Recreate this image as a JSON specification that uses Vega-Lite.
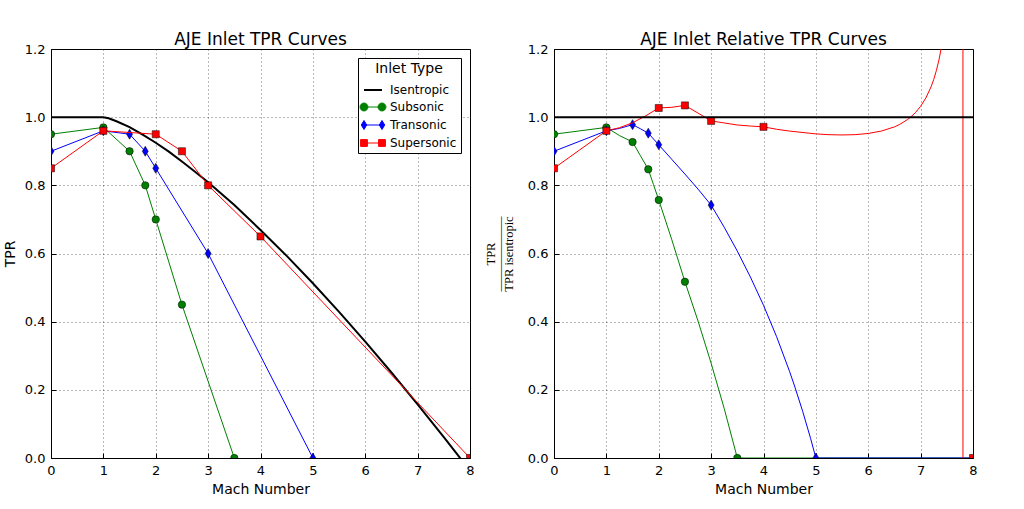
{
  "$schema": "https://vega.github.io/schema/vega-lite/v6.json",
  "autosize": {"type": "pad"},
  "padding": {"left": 2, "top": 30, "right": 5, "bottom": 5},
  "background": "white",
  "bounds": "flush",
  "spacing": 84,
  "config": {
    "view": {"stroke": "black", "strokeWidth": 1},
    "axis": {
      "labelFont": "DejaVu Sans", "labelFontSize": 13, "labelColor": "black",
      "titleFont": "DejaVu Sans", "titleFontSize": 14, "titleFontWeight": "normal", "titleColor": "black",
      "domain": false, "tickColor": "black", "tickSize": -5, "labelPadding": 11,
      "grid": true, "gridColor": "black", "gridDash": [1, 3], "gridOpacity": 0.7, "gridWidth": 0.8,
      "labelFlush": false, "labelOverlap": false
    },
    "title": {"font": "DejaVu Sans", "fontSize": 17, "fontWeight": "normal", "color": "black", "offset": -6}
  },
  "datasets": {
    "Lline": [
      {"s": "Isentropic", "m": 0, "v": 1.0},
      {"s": "Isentropic", "m": 1, "v": 1.0},
      {"s": "Isentropic", "m": 1.1, "v": 0.9966},
      {"s": "Isentropic", "m": 1.25, "v": 0.988},
      {"s": "Isentropic", "m": 1.5, "v": 0.971},
      {"s": "Isentropic", "m": 1.75, "v": 0.949},
      {"s": "Isentropic", "m": 2, "v": 0.925},
      {"s": "Isentropic", "m": 2.25, "v": 0.899},
      {"s": "Isentropic", "m": 2.5, "v": 0.870},
      {"s": "Isentropic", "m": 2.75, "v": 0.840},
      {"s": "Isentropic", "m": 3, "v": 0.809},
      {"s": "Isentropic", "m": 3.5, "v": 0.742},
      {"s": "Isentropic", "m": 4, "v": 0.669},
      {"s": "Isentropic", "m": 4.5, "v": 0.593},
      {"s": "Isentropic", "m": 5, "v": 0.5127},
      {"s": "Isentropic", "m": 5.5, "v": 0.4286},
      {"s": "Isentropic", "m": 6, "v": 0.3413},
      {"s": "Isentropic", "m": 6.5, "v": 0.2509},
      {"s": "Isentropic", "m": 7, "v": 0.1575},
      {"s": "Isentropic", "m": 7.5, "v": 0.061},
      {"s": "Isentropic", "m": 7.75, "v": 0.012},
      {"s": "Isentropic", "m": 7.9, "v": -0.0175},
      {"s": "Subsonic", "m": 0, "v": 0.95},
      {"s": "Subsonic", "m": 1, "v": 0.97},
      {"s": "Subsonic", "m": 1.5, "v": 0.90},
      {"s": "Subsonic", "m": 1.8, "v": 0.80},
      {"s": "Subsonic", "m": 2, "v": 0.70},
      {"s": "Subsonic", "m": 2.5, "v": 0.45},
      {"s": "Subsonic", "m": 3.5, "v": 0.0},
      {"s": "Transonic", "m": 0, "v": 0.90},
      {"s": "Transonic", "m": 1, "v": 0.96},
      {"s": "Transonic", "m": 1.5, "v": 0.95},
      {"s": "Transonic", "m": 1.8, "v": 0.90},
      {"s": "Transonic", "m": 2, "v": 0.85},
      {"s": "Transonic", "m": 3, "v": 0.60},
      {"s": "Transonic", "m": 5, "v": 0.0},
      {"s": "Supersonic", "m": 0, "v": 0.85},
      {"s": "Supersonic", "m": 1, "v": 0.96},
      {"s": "Supersonic", "m": 2, "v": 0.95},
      {"s": "Supersonic", "m": 2.5, "v": 0.90},
      {"s": "Supersonic", "m": 3, "v": 0.80},
      {"s": "Supersonic", "m": 4, "v": 0.65},
      {"s": "Supersonic", "m": 8, "v": 0.0}
    ],
    "Rline": [
      {"s": "Subsonic", "m": 0, "v": 0.95},
      {"s": "Subsonic", "m": 1, "v": 0.97},
      {"s": "Subsonic", "m": 1.25, "v": 0.946},
      {"s": "Subsonic", "m": 1.5, "v": 0.927},
      {"s": "Subsonic", "m": 1.65, "v": 0.887},
      {"s": "Subsonic", "m": 1.8, "v": 0.847},
      {"s": "Subsonic", "m": 1.9, "v": 0.802},
      {"s": "Subsonic", "m": 2, "v": 0.757},
      {"s": "Subsonic", "m": 2.25, "v": 0.640},
      {"s": "Subsonic", "m": 2.5, "v": 0.517},
      {"s": "Subsonic", "m": 2.75, "v": 0.402},
      {"s": "Subsonic", "m": 3, "v": 0.278},
      {"s": "Subsonic", "m": 3.25, "v": 0.145},
      {"s": "Subsonic", "m": 3.5, "v": 0.0},
      {"s": "Subsonic", "m": 8, "v": 0.0},
      {"s": "Transonic", "m": 0, "v": 0.90},
      {"s": "Transonic", "m": 1, "v": 0.96},
      {"s": "Transonic", "m": 1.25, "v": 0.967},
      {"s": "Transonic", "m": 1.5, "v": 0.978},
      {"s": "Transonic", "m": 1.65, "v": 0.966},
      {"s": "Transonic", "m": 1.8, "v": 0.953},
      {"s": "Transonic", "m": 1.9, "v": 0.936},
      {"s": "Transonic", "m": 2, "v": 0.919},
      {"s": "Transonic", "m": 2.25, "v": 0.876},
      {"s": "Transonic", "m": 2.5, "v": 0.833},
      {"s": "Transonic", "m": 2.75, "v": 0.789},
      {"s": "Transonic", "m": 3, "v": 0.742},
      {"s": "Transonic", "m": 3.25, "v": 0.677},
      {"s": "Transonic", "m": 3.5, "v": 0.607},
      {"s": "Transonic", "m": 3.75, "v": 0.531},
      {"s": "Transonic", "m": 4, "v": 0.448},
      {"s": "Transonic", "m": 4.25, "v": 0.356},
      {"s": "Transonic", "m": 4.5, "v": 0.253},
      {"s": "Transonic", "m": 4.6, "v": 0.208},
      {"s": "Transonic", "m": 4.75, "v": 0.136},
      {"s": "Transonic", "m": 4.9, "v": 0.057},
      {"s": "Transonic", "m": 5, "v": 0.0},
      {"s": "Transonic", "m": 8, "v": 0.0},
      {"s": "Supersonic", "m": 0, "v": 0.85},
      {"s": "Supersonic", "m": 1, "v": 0.96},
      {"s": "Supersonic", "m": 1.25, "v": 0.969},
      {"s": "Supersonic", "m": 1.5, "v": 0.9835},
      {"s": "Supersonic", "m": 1.75, "v": 1.0037},
      {"s": "Supersonic", "m": 2, "v": 1.027},
      {"s": "Supersonic", "m": 2.25, "v": 1.029},
      {"s": "Supersonic", "m": 2.5, "v": 1.0345},
      {"s": "Supersonic", "m": 2.75, "v": 1.012},
      {"s": "Supersonic", "m": 3, "v": 0.989},
      {"s": "Supersonic", "m": 3.25, "v": 0.983},
      {"s": "Supersonic", "m": 3.5, "v": 0.977},
      {"s": "Supersonic", "m": 3.75, "v": 0.974},
      {"s": "Supersonic", "m": 4, "v": 0.9716},
      {"s": "Supersonic", "m": 4.25, "v": 0.9645},
      {"s": "Supersonic", "m": 4.5, "v": 0.9591},
      {"s": "Supersonic", "m": 5, "v": 0.9509},
      {"s": "Supersonic", "m": 5.25, "v": 0.9486},
      {"s": "Supersonic", "m": 5.5, "v": 0.9478},
      {"s": "Supersonic", "m": 5.75, "v": 0.9487},
      {"s": "Supersonic", "m": 6, "v": 0.9522},
      {"s": "Supersonic", "m": 6.25, "v": 0.9592},
      {"s": "Supersonic", "m": 6.5, "v": 0.9715},
      {"s": "Supersonic", "m": 6.6, "v": 0.9787},
      {"s": "Supersonic", "m": 6.75, "v": 0.993},
      {"s": "Supersonic", "m": 6.8, "v": 0.9989},
      {"s": "Supersonic", "m": 6.9, "v": 1.0132},
      {"s": "Supersonic", "m": 7, "v": 1.0319},
      {"s": "Supersonic", "m": 7.1, "v": 1.0563},
      {"s": "Supersonic", "m": 7.2, "v": 1.0892},
      {"s": "Supersonic", "m": 7.25, "v": 1.1105},
      {"s": "Supersonic", "m": 7.3, "v": 1.1364},
      {"s": "Supersonic", "m": 7.35, "v": 1.168},
      {"s": "Supersonic", "m": 7.4, "v": 1.2074},
      {"s": "Supersonic", "m": 7.45, "v": 1.258},
      {"s": "Supersonic", "m": 7.5, "v": 1.33},
      {"s": "Supersonic", "m": 7.6, "v": 1.56},
      {"s": "Supersonic", "m": 7.7, "v": 2.2},
      {"s": "Supersonic", "m": 7.8, "v": 13.8},
      {"s": "Supersonic", "m": 7.82, "v": -18},
      {"s": "Supersonic", "m": 7.9, "v": -0.93},
      {"s": "Supersonic", "m": 8, "v": 0.0},
      {"s": "Isentropic", "m": 0, "v": 1.0},
      {"s": "Isentropic", "m": 8, "v": 1.0}
    ],
    "Rpts": [
      {"s": "Subsonic", "m": 0, "v": 0.95},
      {"s": "Subsonic", "m": 1, "v": 0.97},
      {"s": "Subsonic", "m": 1.5, "v": 0.927},
      {"s": "Subsonic", "m": 1.8, "v": 0.847},
      {"s": "Subsonic", "m": 2, "v": 0.757},
      {"s": "Subsonic", "m": 2.5, "v": 0.517},
      {"s": "Subsonic", "m": 3.5, "v": 0.0},
      {"s": "Transonic", "m": 0, "v": 0.90},
      {"s": "Transonic", "m": 1, "v": 0.96},
      {"s": "Transonic", "m": 1.5, "v": 0.978},
      {"s": "Transonic", "m": 1.8, "v": 0.953},
      {"s": "Transonic", "m": 2, "v": 0.919},
      {"s": "Transonic", "m": 3, "v": 0.742},
      {"s": "Transonic", "m": 5, "v": 0.0},
      {"s": "Supersonic", "m": 0, "v": 0.85},
      {"s": "Supersonic", "m": 1, "v": 0.96},
      {"s": "Supersonic", "m": 2, "v": 1.027},
      {"s": "Supersonic", "m": 2.5, "v": 1.0345},
      {"s": "Supersonic", "m": 3, "v": 0.989},
      {"s": "Supersonic", "m": 4, "v": 0.9716},
      {"s": "Supersonic", "m": 8, "v": 0.0}
    ]
  },
  "resolve": {"scale": {"color": "independent"}, "legend": {"color": "independent"}},
  "hconcat": [
    {
      "width": 419,
      "height": 409,
      "title": {"text": "AJE Inlet TPR Curves"},
      "data": {"name": "Lline"},
      "encoding": {
        "x": {"field": "m", "type": "quantitative", "scale": {"domain": [0, 8], "nice": false, "zero": false},
              "axis": {"title": "Mach Number", "values": [0,1,2,3,4,5,6,7,8], "format": "d", "titlePadding": 5}},
        "y": {"field": "v", "type": "quantitative", "scale": {"domain": [0, 1.2], "nice": false, "zero": false},
              "axis": {"title": "TPR", "values": [0,0.2,0.4,0.6,0.8,1.0,1.2], "format": ".1f", "titlePadding": 7}}
      },
      "layer": [
        {
          "transform": [{"filter": "datum.s === 'Isentropic'"}],
          "mark": {"type": "line", "strokeWidth": 2, "clip": true},
          "encoding": {
            "color": {"field": "s", "type": "nominal",
              "scale": {"domain": ["Isentropic", "Subsonic", "Transonic", "Supersonic"], "range": ["#000000", "#008000", "#0000ff", "#ff0000"]},
              "legend": {
                "title": "Inlet Type", "orient": "top-right", "offset": 9, "padding": 4,
                "strokeColor": "black", "fillColor": "white",
                "titleFont": "DejaVu Sans", "titleFontSize": 14, "titleFontWeight": "normal", "titleColor": "black",
                "titleAnchor": "middle", "titlePadding": 8,
                "labelFont": "DejaVu Sans", "labelFontSize": 12, "labelColor": "black",
                "symbolSize": 324, "symbolOffset": 5, "labelOffset": 11, "rowPadding": 5,
                "encode": {"symbols": {"update": {
                  "shape": {"signal": "datum.value === 'Isentropic' ? 'M-1,0H1' : datum.value === 'Subsonic' ? 'M-1,0H1M-1.44,0A0.44,0.44,0,1,0,-0.56,0A0.44,0.44,0,1,0,-1.44,0ZM0.56,0A0.44,0.44,0,1,0,1.44,0A0.44,0.44,0,1,0,0.56,0Z' : datum.value === 'Transonic' ? 'M-1,0H1M-1,-0.5L-0.7,0L-1,0.5L-1.3,0ZM1,-0.5L1.3,0L1,0.5L0.7,0Z' : 'M-1,0H1M-1.38,-0.38H-0.62V0.38H-1.38ZM0.62,-0.38H1.38V0.38H0.62Z'"},
                  "fill": {"signal": "datum.value === 'Isentropic' ? 'transparent' : datum.value === 'Subsonic' ? '#008000' : datum.value === 'Transonic' ? '#0000ff' : '#ff0000'"},
                  "stroke": {"signal": "datum.value === 'Isentropic' ? '#000000' : datum.value === 'Subsonic' ? '#008000' : datum.value === 'Transonic' ? '#0000ff' : '#ff0000'"},
                  "strokeWidth": {"signal": "datum.value === 'Isentropic' ? 2 : 1"},
                  "opacity": {"value": 1}
                }}}
              }}
          }
        },
        {
          "transform": [{"filter": "datum.s === 'Subsonic'"}],
          "mark": {"type": "line", "strokeWidth": 1, "clip": true},
          "encoding": {"color": {"field": "s", "type": "nominal"}}
        },
        {
          "transform": [{"filter": "datum.s === 'Subsonic'"}],
          "mark": {"type": "point", "shape": "circle", "filled": true, "fill": "#008000", "stroke": "black", "strokeWidth": 0.5, "size": 55, "opacity": 1, "clip": true}
        },
        {
          "transform": [{"filter": "datum.s === 'Transonic'"}],
          "mark": {"type": "line", "strokeWidth": 1, "clip": true},
          "encoding": {"color": {"field": "s", "type": "nominal"}}
        },
        {
          "transform": [{"filter": "datum.s === 'Transonic'"}],
          "mark": {"type": "point", "shape": "M0,-1L0.6,0L0,1L-0.6,0Z", "filled": true, "fill": "#0000ff", "stroke": "black", "strokeWidth": 0.5, "size": 100, "opacity": 1, "clip": true}
        },
        {
          "transform": [{"filter": "datum.s === 'Supersonic'"}],
          "mark": {"type": "line", "strokeWidth": 1, "clip": true},
          "encoding": {"color": {"field": "s", "type": "nominal"}}
        },
        {
          "transform": [{"filter": "datum.s === 'Supersonic'"}],
          "mark": {"type": "point", "shape": "square", "filled": true, "fill": "#ff0000", "stroke": "black", "strokeWidth": 0.5, "size": 50, "opacity": 1, "clip": true}
        }
      ]
    },
    {
      "width": 419,
      "height": 409,
      "title": {"text": "AJE Inlet Relative TPR Curves"},
      "encoding": {
        "x": {"field": "m", "type": "quantitative", "scale": {"domain": [0, 8], "nice": false, "zero": false},
              "axis": {"title": "Mach Number", "values": [0,1,2,3,4,5,6,7,8], "format": "d", "titlePadding": 5}},
        "y": {"field": "v", "type": "quantitative", "scale": {"domain": [0, 1.2], "nice": false, "zero": false},
              "axis": {"title": ["TPR", "\u2014\u2014\u2014\u2014\u2014\u2014", "TPR isentropic"], "titleFont": "Liberation Serif", "titleFontSize": 12.5, "titleLineHeight": 9,
                       "values": [0,0.2,0.4,0.6,0.8,1.0,1.2], "format": ".1f", "titlePadding": 12}}
      },
      "layer": [
        {
          "data": {"name": "Rline"},
          "transform": [{"filter": "datum.s === 'Subsonic'"}],
          "mark": {"type": "line", "strokeWidth": 1, "color": "#008000", "clip": true}
        },
        {
          "data": {"name": "Rpts"},
          "transform": [{"filter": "datum.s === 'Subsonic'"}],
          "mark": {"type": "point", "shape": "circle", "filled": true, "fill": "#008000", "stroke": "black", "strokeWidth": 0.5, "size": 55, "opacity": 1, "clip": true}
        },
        {
          "data": {"name": "Rline"},
          "transform": [{"filter": "datum.s === 'Transonic'"}],
          "mark": {"type": "line", "strokeWidth": 1, "color": "#0000ff", "clip": true}
        },
        {
          "data": {"name": "Rpts"},
          "transform": [{"filter": "datum.s === 'Transonic'"}],
          "mark": {"type": "point", "shape": "M0,-1L0.6,0L0,1L-0.6,0Z", "filled": true, "fill": "#0000ff", "stroke": "black", "strokeWidth": 0.5, "size": 100, "opacity": 1, "clip": true}
        },
        {
          "data": {"name": "Rline"},
          "transform": [{"filter": "datum.s === 'Supersonic'"}],
          "mark": {"type": "line", "strokeWidth": 1, "color": "#ff0000", "clip": true}
        },
        {
          "data": {"name": "Rpts"},
          "transform": [{"filter": "datum.s === 'Supersonic'"}],
          "mark": {"type": "point", "shape": "square", "filled": true, "fill": "#ff0000", "stroke": "black", "strokeWidth": 0.5, "size": 50, "opacity": 1, "clip": true}
        },
        {
          "data": {"name": "Rline"},
          "transform": [{"filter": "datum.s === 'Isentropic'"}],
          "mark": {"type": "line", "strokeWidth": 2, "color": "#000000", "clip": true}
        }
      ]
    }
  ]
}
